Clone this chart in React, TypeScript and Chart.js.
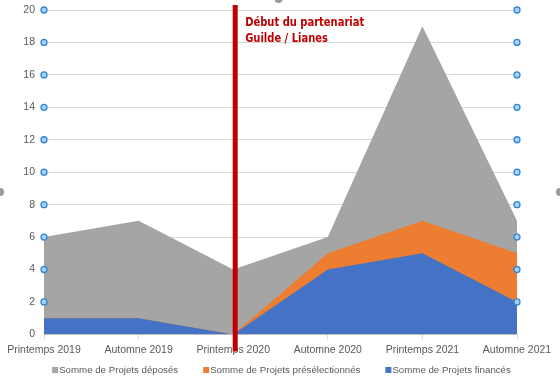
import { useEffect, useRef } from "react";
import { Chart, registerables } from "chart.js";
Chart.register(...registerables);

const categories = ["Printemps 2019", "Automne 2019", "Printemps 2020", "Automne 2020", "Printemps 2021", "Automne 2021"];
const deposes = [6, 7, 4, 6, 19, 7];
const preselectionnes = [1, 1, 0, 5, 7, 5];
const finances = [1, 1, 0, 4, 5, 2];
const yMax = 20;
const yStep = 2;
const partnershipIndex = 2;
const annotationLines = ["Début du partenariat", "Guilde / Lianes"];
const handleValues = [2, 4, 6, 8, 10, 12, 14, 16, 18, 20];
const handleCategoryIndexes = [0, 5];

const FONT = "'Liberation Sans', Arial, sans-serif";

const overlay = {
  id: "overlay",
  afterDatasetsDraw(chart: any) {
    const { ctx, scales, chartArea } = chart;
    const x = scales.x;
    const y = scales.y;
    const px = x.getPixelForValue(partnershipIndex) + 2;
    ctx.save();
    ctx.fillStyle = "#C00000";
    ctx.fillRect(px - 2.5, chartArea.top - 5, 5, chartArea.bottom - chartArea.top + 22);
    ctx.font = "bold 12px 'DejaVu Sans Condensed', 'DejaVu Sans', sans-serif";
    ctx.textBaseline = "alphabetic";
    ctx.textAlign = "left";
    const w = ctx.measureText(annotationLines[0]).width;
    const sx = 119 / w;
    ctx.save();
    ctx.translate(px + 10, 0);
    ctx.scale(sx, 1);
    annotationLines.forEach((t, i) => ctx.fillText(t, 0, chartArea.top + 15.8 + i * 16));
    ctx.restore();
    // selection handles
    ctx.lineWidth = 1.3;
    for (const ci of handleCategoryIndexes) {
      const hx = x.getPixelForValue(ci);
      for (const v of handleValues) {
        const hy = y.getPixelForValue(v);
        ctx.beginPath();
        ctx.arc(hx, hy, 3, 0, Math.PI * 2);
        ctx.fillStyle = "#A9D1F5";
        ctx.fill();
        ctx.strokeStyle = "#2F86D8";
        ctx.stroke();
      }
    }
    ctx.fillStyle = "#9a9a9a";
    [[0, 192], [chart.width, 192], [x.getPixelForValue(2.48), -1]].forEach(([cx, cy]) => {
      ctx.beginPath();
      ctx.arc(cx, cy, 4, 0, Math.PI * 2);
      ctx.fill();
    });
    ctx.restore();
  },
  afterDraw(chart: any) {
    // legend (order as in the original: déposés, présélectionnés, financés)
    const { ctx } = chart;
    const items = [...chart.data.datasets].reverse();
    ctx.save();
    ctx.font = `9.7px ${FONT}`;
    ctx.textBaseline = "middle";
    ctx.textAlign = "left";
    const box = 6, boxGap = 7, itemGap = 25;
    const widths = items.map((d: any) => boxGap + ctx.measureText(d.label).width);
    const total = widths.reduce((a: number, b: number) => a + b, 0) + itemGap * (items.length - 1);
    let cx = chart.width / 2 + 1.5 - total / 2;
    const cy = 370;
    items.forEach((d: any, i: number) => {
      ctx.fillStyle = d.backgroundColor;
      ctx.fillRect(cx, cy - 3, box, box);
      ctx.fillStyle = "#595959";
      ctx.fillText(d.label, cx + boxGap, cy + 0.5);
      cx += widths[i] + itemGap;
    });
    ctx.restore();
  },
};

export default function App() {
  const ref = useRef<HTMLCanvasElement>(null);
  useEffect(() => {
    if (!ref.current) return;
    const chart = new Chart(ref.current, {
      type: "line",
      data: {
        labels: categories,
        datasets: [
          {
            label: "Somme de Projets financés",
            data: finances,
            backgroundColor: "#4472C4",
            borderColor: "#4472C4",
            borderWidth: 0,
            pointRadius: 0,
            fill: "origin",
            tension: 0,
          },
          {
            label: "Somme de Projets présélectionnés",
            data: preselectionnes,
            backgroundColor: "#ED7D31",
            borderColor: "#ED7D31",
            borderWidth: 0,
            pointRadius: 0,
            fill: "origin",
            tension: 0,
          },
          {
            label: "Somme de Projets déposés",
            data: deposes,
            backgroundColor: "#A5A5A5",
            borderColor: "#A5A5A5",
            borderWidth: 0,
            pointRadius: 0,
            fill: "origin",
            tension: 0,
          },
        ],
      },
      options: {
        responsive: false,
        animation: false,
        layout: { padding: { top: 10, right: 0, left: 0, bottom: 22 } },
        scales: {
          x: {
            offset: false,
            grid: { display: true, drawOnChartArea: false, drawTicks: true, tickLength: 5, color: "#D9D9D9" },
            border: { display: true, color: "#D9D9D9" },
            ticks: { color: "#595959", font: { family: FONT, size: 10.5 }, maxRotation: 0, autoSkip: false, padding: 4 },
          },
          y: {
            min: 0,
            max: yMax,
            afterFit(s: any) { s.width = 44; s.paddingTop = 0; s.paddingBottom = 0; },
            ticks: { stepSize: yStep, color: "#595959", font: { family: FONT, size: 10.5 }, padding: 9 },
            grid: { color: "#D9D9D9", drawTicks: false },
            border: { display: false },
          },
          yRight: {
            position: "right",
            min: 0,
            max: yMax,
            afterFit(s: any) { s.width = 43; s.paddingTop = 0; s.paddingBottom = 0; },
            ticks: { display: false },
            grid: { display: false },
            border: { display: false },
          },
        },
        plugins: {
          legend: { display: false },
          tooltip: { enabled: false },
        },
      },
      plugins: [overlay],
    });
    return () => chart.destroy();
  }, []);
  return (
    <div style={{ position: "fixed", left: 0, top: 0, width: 560, height: 382, background: "#fff" }}>
      <canvas ref={ref} width={560} height={382} />
    </div>
  );
}
